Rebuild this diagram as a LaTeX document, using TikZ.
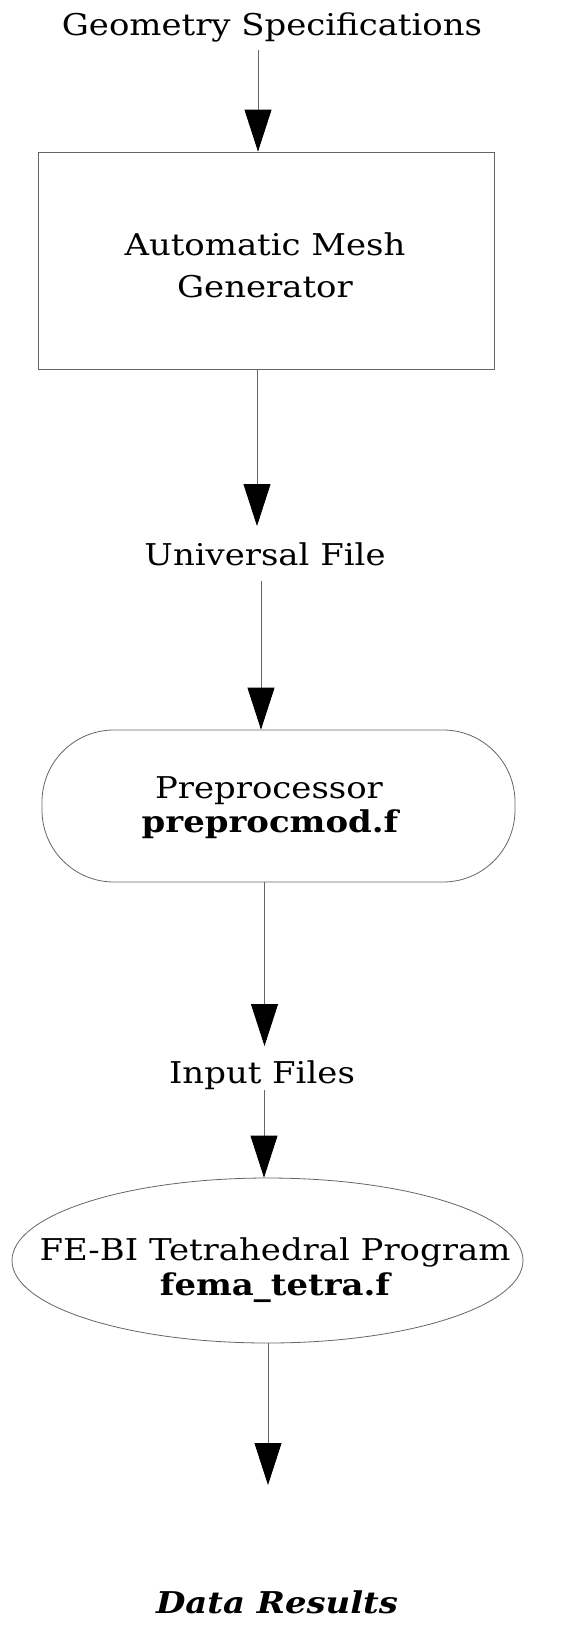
\documentclass[tikz,border=0pt]{standalone}
\usepackage{fontspec}
\setmainfont[FakeStretch=1.13]{DejaVu Serif}
\usetikzlibrary{arrows.meta,shapes.geometric}
\begin{document}
\begin{tikzpicture}[x=1pt,y=-1pt,
  txt/.style={inner sep=0pt, anchor=base, font=\fontsize{30}{36}\selectfont},
  shapeline/.style={draw=black!60, line width=0.8pt, inner sep=0pt},
  conn/.style={draw=black!60, line width=0.8pt, -{Triangle[length=42pt,width=27pt,color=black]}}]
\useasboundingbox[fill=white] (0,0) rectangle (562,1641);

\node[txt] (geo) at (272,35) {Geometry Specifications};

\node[shapeline, rectangle, minimum width=456pt, minimum height=217pt] (mesh) at (266,260.5) {};
\node[txt] (mesh1) at (265,255) {Automatic Mesh};
\node[txt] (mesh2) at (265,297) {Generator};

\node[txt] (univ) at (265,565) {Universal File};

\node[shapeline, rectangle, rounded corners=72pt, minimum width=473pt, minimum height=152pt] (pre) at (278.5,806) {};
\node[txt] (pre1) at (269,798) {Preprocessor};
\node[txt] (pre2) at (270,832) {\bfseries preprocmod.f};

\node[txt] (inp) at (262,1083) {Input Files};

\node[shapeline, ellipse, minimum width=511pt, minimum height=165pt] (fem) at (267.5,1260.5) {};
\node[txt] (fem1) at (275,1260) {FE-BI Tetrahedral Program};
\node[txt] (fem2) at (275,1295) {\bfseries fema\_tetra.f};

\node[txt] (dat) at (277,1613) {\bfseries\itshape Data Results};

\draw[conn] ([xshift=-14pt,yshift=-8pt]geo.south) -- ([xshift=-8pt]mesh.north);
\draw[conn] ([xshift=-9pt]mesh.south) -- ([xshift=-8pt,yshift=16pt]univ.north);
\draw[conn] ([xshift=-4pt,yshift=-15pt]univ.south) -- ([xshift=-17.5pt]pre.north);
\draw[conn] ([xshift=-14pt]pre.south) -- ([xshift=2.5pt,yshift=14pt]inp.north);
\draw[conn] ([xshift=2pt,yshift=-1pt]inp.south) -- ([xshift=-3.5pt]fem.north);
\draw[conn] ([xshift=0.5pt]fem.south) -- ([xshift=-9pt,yshift=105pt]dat.north);
\end{tikzpicture}
\end{document}
